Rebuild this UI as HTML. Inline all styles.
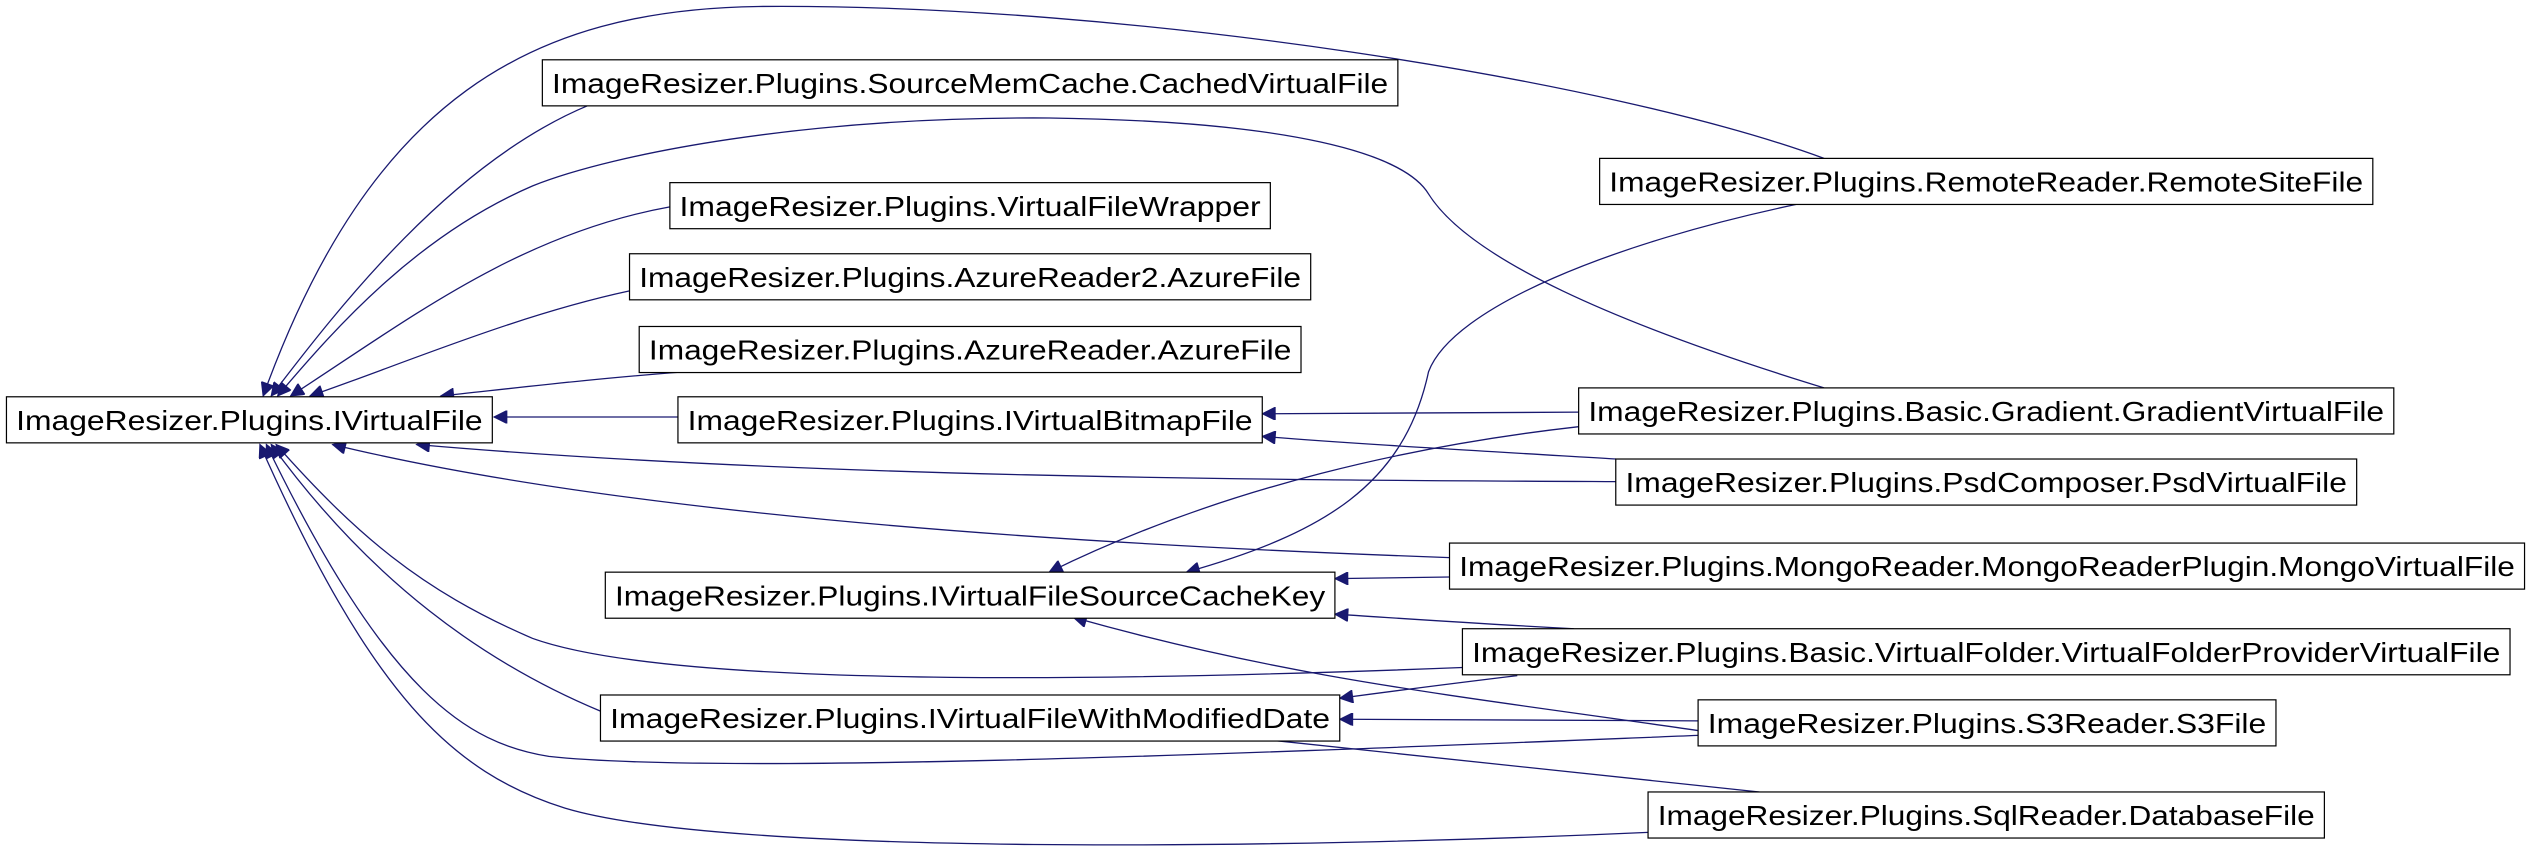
<!DOCTYPE html>
<html><head><meta charset="utf-8"><style>
html,body{margin:0;padding:0;background:#fff;}
svg{display:block;}
text{font-family:"Liberation Sans",Arial,sans-serif;font-size:17px;fill:#000;}
rect{fill:#fff;stroke:#000;stroke-width:0.75;}
path{fill:none;stroke:#191970;stroke-width:0.8;}
</style></head><body>
<svg width="2531" height="855" viewBox="0 0 1568 529" preserveAspectRatio="none" xmlns="http://www.w3.org/2000/svg">
<defs><marker id="a" viewBox="0 0 10 10" refX="10" refY="5" markerWidth="12" markerHeight="8" markerUnits="userSpaceOnUse" orient="auto"><path d="M0,0 L10,5 L0,10 z" style="fill:#191970;stroke:#191970"/></marker></defs>
<g marker-end="url(#a)">
<path d="M1130,98 C1000,50 700,2 470,4 C330,6 230,60 163,245"/>
<path d="M365,65 C280,100 210,190 168,245"/>
<path d="M1130,240 C1000,200 910,160 885,120 C870,95 800,75 650,73 C500,72 380,95 330,115 C260,145 210,200 172,245"/>
<path d="M415,128 C320,145 250,200 180,245"/>
<path d="M390,180 C320,195 250,225 192,245"/>
<path d="M425,230 C370,234 320,240 273,245"/>
<path d="M420,258 L306,258"/>
<path d="M1001,298 C800,297 500,296 258,275"/>
<path d="M898,345 C700,338 400,322 206,275"/>
<path d="M906,413 C600,425 400,420 330,395 C260,365 220,330 171,275"/>
<path d="M372,440 C300,410 230,360 168,275"/>
<path d="M1052,455 C800,465 450,480 340,468 C290,460 240,430 165,275"/>
<path d="M1021,515 C800,525 450,530 350,500 C280,478 230,430 161,275"/>
<path d="M978,255 L782,256"/>
<path d="M1001,284 C900,278 830,274 782,270"/>
<path d="M978,264 C880,275 760,300 650,354"/>
<path d="M1115,126 C1000,150 900,190 885,230 C870,300 820,330 735,354"/>
<path d="M898,357 L827,358"/>
<path d="M975,389 C900,385 860,382 827,380"/>
<path d="M1052,452 C900,430 800,420 665,382"/>
<path d="M940,418 C890,424 860,428 830,432"/>
<path d="M1052,446 L830,445"/>
<path d="M1090,490 C950,475 850,465 750,454"/>
</g>
<g>
<rect x="4" y="245.5" width="301" height="28.5"/><text x="10" y="266" textLength="289" lengthAdjust="spacingAndGlyphs">ImageResizer.Plugins.IVirtualFile</text>
<rect x="336" y="37" width="530" height="28.5"/><text x="342" y="57.5" textLength="518" lengthAdjust="spacingAndGlyphs">ImageResizer.Plugins.SourceMemCache.CachedVirtualFile</text>
<rect x="415" y="113" width="372" height="28.5"/><text x="421" y="133.5" textLength="360" lengthAdjust="spacingAndGlyphs">ImageResizer.Plugins.VirtualFileWrapper</text>
<rect x="390" y="157" width="422" height="28.5"/><text x="396" y="177.5" textLength="410" lengthAdjust="spacingAndGlyphs">ImageResizer.Plugins.AzureReader2.AzureFile</text>
<rect x="396" y="202" width="410" height="28.5"/><text x="402" y="222.5" textLength="398" lengthAdjust="spacingAndGlyphs">ImageResizer.Plugins.AzureReader.AzureFile</text>
<rect x="420" y="245.5" width="362" height="28.5"/><text x="426" y="266" textLength="350" lengthAdjust="spacingAndGlyphs">ImageResizer.Plugins.IVirtualBitmapFile</text>
<rect x="375" y="354" width="452" height="28.5"/><text x="381" y="374.5" textLength="440" lengthAdjust="spacingAndGlyphs">ImageResizer.Plugins.IVirtualFileSourceCacheKey</text>
<rect x="372" y="430" width="458" height="28.5"/><text x="378" y="450.5" textLength="446" lengthAdjust="spacingAndGlyphs">ImageResizer.Plugins.IVirtualFileWithModifiedDate</text>
<rect x="991" y="98" width="479" height="28.5"/><text x="997" y="118.5" textLength="467" lengthAdjust="spacingAndGlyphs">ImageResizer.Plugins.RemoteReader.RemoteSiteFile</text>
<rect x="978" y="240" width="505" height="28.5"/><text x="984" y="260.5" textLength="493" lengthAdjust="spacingAndGlyphs">ImageResizer.Plugins.Basic.Gradient.GradientVirtualFile</text>
<rect x="1001" y="284" width="459" height="28.5"/><text x="1007" y="304.5" textLength="447" lengthAdjust="spacingAndGlyphs">ImageResizer.Plugins.PsdComposer.PsdVirtualFile</text>
<rect x="898" y="336" width="666" height="28.5"/><text x="904" y="356.5" textLength="654" lengthAdjust="spacingAndGlyphs">ImageResizer.Plugins.MongoReader.MongoReaderPlugin.MongoVirtualFile</text>
<rect x="906" y="389" width="649" height="28.5"/><text x="912" y="409.5" textLength="637" lengthAdjust="spacingAndGlyphs">ImageResizer.Plugins.Basic.VirtualFolder.VirtualFolderProviderVirtualFile</text>
<rect x="1052" y="433" width="358" height="28.5"/><text x="1058" y="453.5" textLength="346" lengthAdjust="spacingAndGlyphs">ImageResizer.Plugins.S3Reader.S3File</text>
<rect x="1021" y="490" width="419" height="28.5"/><text x="1027" y="510.5" textLength="407" lengthAdjust="spacingAndGlyphs">ImageResizer.Plugins.SqlReader.DatabaseFile</text>
</g>
</svg>
</body></html>
